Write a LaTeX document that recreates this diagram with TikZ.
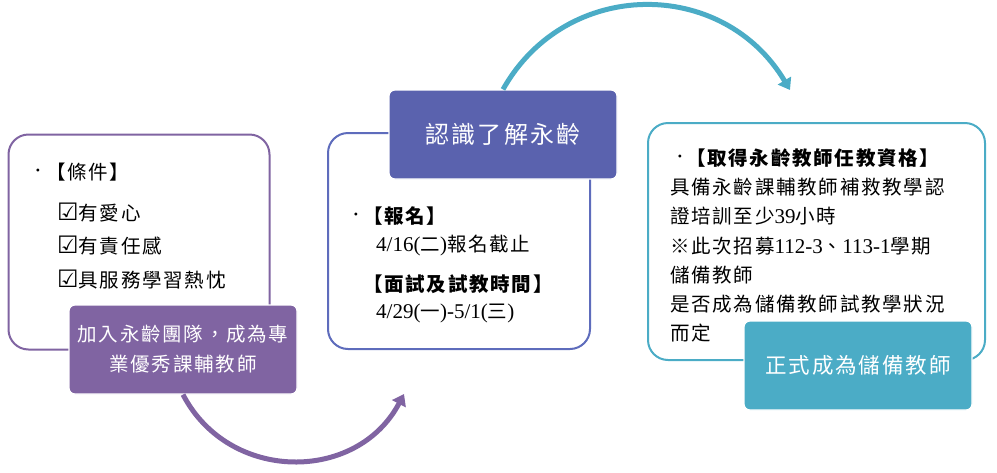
\documentclass[tikz,border=0pt]{standalone}
\usepackage{fontspec}
\setmainfont{Noto Sans CJK TC}[LetterSpace=9]
\newfontfamily\latf{Liberation Serif}
\newcommand\lat{\latf\fontsize{21pt}{22pt}\selectfont}
\newfontfamily\dvf{DejaVu Sans}
\newcommand\dv{\dvf\bfseries\fontsize{24pt}{22pt}\selectfont}
\usetikzlibrary{arrows.meta}
\definecolor{purp}{HTML}{8064A2}
\definecolor{blu}{HTML}{5A62AE}
\definecolor{bluline}{HTML}{5E6CBC}
\definecolor{tealc}{HTML}{4BACC6}
\tikzset{
  outbox/.style={draw=#1, line width=2pt, rounded corners=20pt, fill=white},
  fillbox/.style={fill=#1, draw=white, line width=1.2pt, rounded corners=6pt, text=white, align=center,
     font=\fontsize{19.5pt}{30pt}\selectfont},
  txt/.style={inner sep=0pt, anchor=west, text=black, font=\fontsize{19.5pt}{22pt}\selectfont},
  btxt/.style={txt, font=\bfseries\fontsize{19.5pt}{22pt}\selectfont},
  bul/.style={inner sep=0pt, anchor=center, font=\latf\fontsize{12pt}{14pt}\selectfont},
  arc/.style={draw=#1, line width=5pt, -{Triangle[width=15pt,length=11pt]}},
}
\begin{document}
\begin{tikzpicture}[x=1pt,y=-1pt]
\useasboundingbox (0,0) rectangle (997,472);
% box 1
\node[outbox=purp, minimum width=261pt, minimum height=215pt] (o1) at (139,242) {};
\node[bul] (b1) at (38,172) {•};
\node[txt] (t11) at (46,172) {【條件】};
\node[txt] (t12) at (57,213) {{\dv ☑}有愛心};
\node[txt] (t13) at (57,246) {{\dv ☑}有責任感};
\node[txt] (t14) at (57,280) {{\dv ☑}具服務學習熱忱};
\node[fillbox=purp, minimum width=228pt, minimum height=89pt] (f1) at (183,349.5)
  {加入永齡團隊，成為專\\業優秀課輔教師};
% box 2
\node[outbox=bluline, minimum width=262pt, minimum height=216pt] (o2) at (459,241) {};
\node[bul] (b2) at (356,216) {•};
\node[btxt] (t21) at (363,216) {【報名】};
\node[txt] (t22) at (376,246) {{\lat 4/16(}二{\lat )}報名截止};
\node[btxt] (t23) at (363,284) {【面試及試教時間】};
\node[txt] (t24) at (376,313) {{\lat 4/29(}一{\lat )-5/1(}三{\lat )}};
\node[fillbox=blu, minimum width=228pt, minimum height=89pt, font=\fontsize{24pt}{26pt}\selectfont] (f2) at (503,134.5) {認識了解永齡};
% box 3
\node[outbox=tealc, minimum width=337pt, minimum height=237pt] (o3) at (816.5,241.5) {};
\node[bul] (b3) at (680,158) {•};
\node[btxt] (t31) at (686,158) {【取得永齡教師任教資格】};
\node[txt] (t32) at (670,187) {具備永齡課輔教師補救教學認};
\node[txt] (t33) at (670,216) {證培訓至少{\lat 39}小時};
\node[txt] (t34) at (670,246) {※此次招募{\lat 112-3}、{\lat 113-1}學期};
\node[txt] (t35) at (670,275) {儲備教師};
\node[txt] (t36) at (670,304) {是否成為儲備教師試教學狀況};
\node[txt] (t37) at (670,333) {而定};
\node[fillbox=tealc, minimum width=228pt, minimum height=89pt, font=\fontsize{21.5pt}{24pt}\selectfont] (f3) at (858,365.5) {正式成為儲備教師};
% arcs
\coordinate (pend) at (404,394);
\coordinate (tend) at (790,90);
\draw[arc=purp] (f1.south) .. controls (229,483) and (357,483) .. (pend);
\draw[arc=tealc] (f2.north) .. controls (566,-22.5) and (723,-22.5) .. (tend);
\end{tikzpicture}
\end{document}
